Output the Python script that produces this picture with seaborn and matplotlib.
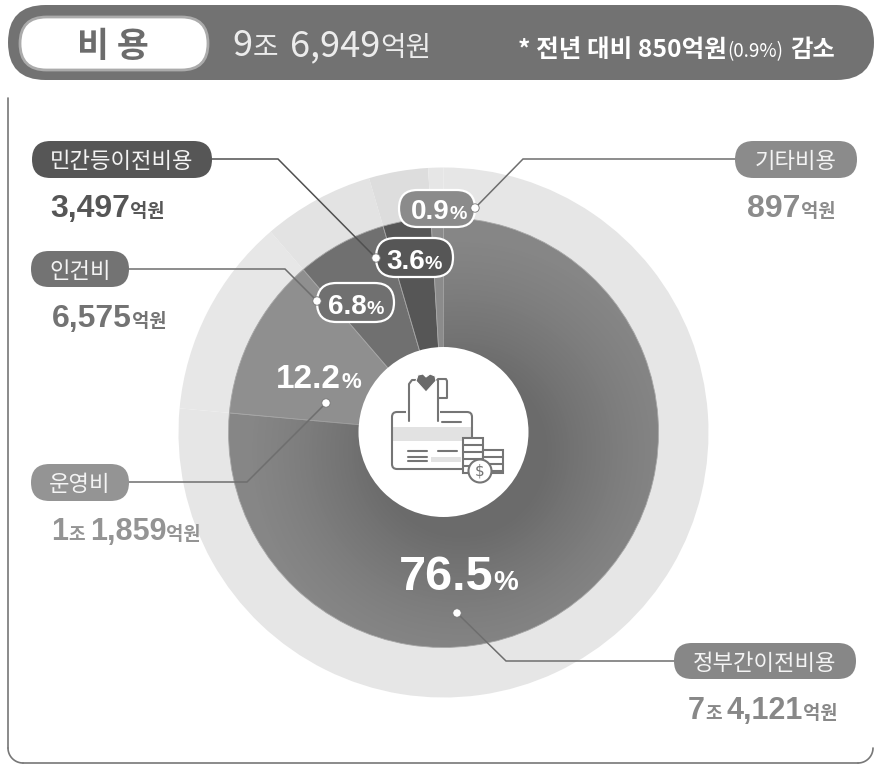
import numpy as np
import seaborn as sns
import matplotlib.pyplot as plt
from matplotlib.patches import Circle, FancyBboxPatch, Rectangle, Polygon

# Data (unit: 억원)
categories = ["정부간이전비용", "운영비", "인건비", "민간등이전비용", "기타비용"]
values = [74121, 11859, 6575, 3497, 897]
percents = ["76.5", "12.2", "6.8", "3.6", "0.9"]
inner_colors = ["#868686", "#8f8f8f", "#707070", "#565656", "#8b8b8b"]
outer_colors = ["#e6e6e6", "#e7e7e7", "#e3e3e3", "#dddddd", "#e6e6e6"]

FONT = "Noto Sans CJK KR"
LATIN = "Liberation Sans"
GRAY = "#727272"
CX, CY = 443.5, 432.5

sns.set_theme(style="white")
plt.rcParams["font.family"] = [FONT, "DejaVu Sans"]

fig = plt.figure(figsize=(8.74, 7.64), dpi=100)
ax = fig.add_axes([0, 0, 1, 1])


# Helper functions
def pill(x0, y0, x1, y1, fc, ec="none", lw=0, zorder=5):
    r = (y1 - y0) / 2
    patch = FancyBboxPatch((x0 + r, y0 + r), x1 - x0 - 2 * r, 0, boxstyle=f"round,pad={r},rounding_size={r}",
                           fc=fc, ec=ec, lw=lw, zorder=zorder)
    ax.add_patch(patch)


def rich_text(x, y, parts, color, align="left", zorder=8):
    """Write pieces of text of different size on one baseline, number entries are gaps in px"""
    renderer = fig.canvas.get_renderer()
    items = []
    for part in parts:
        if isinstance(part, (int, float)):
            items.append(part)
            continue
        txt, size, weight = part
        family = [FONT, "DejaVu Sans"]
        if weight == "digits":
            weight, family = "bold", [LATIN, FONT]
        t = ax.text(x, y, txt, fontsize=size, fontweight=weight, family=family, color=color,
                    va="baseline", ha="left", zorder=zorder)
        items.append((t, t.get_window_extent(renderer).width))
    total = sum(i if isinstance(i, (int, float)) else i[1] for i in items)
    pos = x - total if align == "right" else x
    for item in items:
        if isinstance(item, (int, float)):
            pos += item
        else:
            item[0].set_x(pos)
            pos += item[1]


def leader(xs, ys, color="#6e6e6e"):
    ax.plot(xs, ys, color=color, lw=1.1, zorder=4, solid_joinstyle="miter")
    ax.add_patch(Circle((xs[-1], ys[-1]), 4.2, fc="white", ec="#777777", lw=0.6, zorder=9))


def tag(x0, y0, x1, y1, label, fc):
    pill(x0, y0, x1, y1, fc)
    ax.text((x0 + x1) / 2, (y0 + y1) / 2 + 2, label, fontsize=16, color="#f4f4f4", ha="center",
            va="center", zorder=8)


def amount(x, y, parts, color, align="left"):
    rich_text(x, y, parts + [("억원", 13.5, "bold")], color, align=align)


# Donut: pale outer ring and inner pie share the same values
outer, _ = ax.pie(values, colors=outer_colors, center=(CX, CY), radius=265, counterclock=True, startangle=-90,
                  frame=True, wedgeprops={"lw": 0})
inner, _ = ax.pie(values, colors=inner_colors, center=(CX, CY), radius=215, counterclock=True, startangle=-90,
                  frame=True, wedgeprops={"lw": 0.6, "ec": "#a8a8a8"})
ax.set_xlim(0, 874)
ax.set_ylim(764, 0)
ax.set_axis_off()
for w in outer + inner:
    w.set_zorder(2)

# Soft shadow around the centre
yy, xx = np.mgrid[200:660:2, 220:670:2]
dist = np.hypot(xx - 460, yy - 450)
shade = np.clip(1 - (dist - 85) / 130, 0, 1) ** 1.3 * 0.2
rgba = np.zeros(xx.shape + (4,))
rgba[..., 3] = shade
im = ax.imshow(rgba, extent=(220, 670, 660, 200), zorder=3, interpolation="bilinear", aspect="auto")
im.set_clip_path(inner[0])
ax.set_xlim(0, 874)
ax.set_ylim(764, 0)

ax.add_patch(Circle((CX, 432), 85, fc="white", ec="none", zorder=4.5))

# Panel border, open at the top right
ax.plot([8, 8], [98, 748], color="#777777", lw=1.2, zorder=1)
t = np.linspace(np.pi, np.pi / 2, 20)
ax.plot(23 + 15 * np.cos(t), 748 + 15 * np.sin(t), color="#777777", lw=1.2, zorder=1)
ax.plot([23, 858], [763, 763], color="#777777", lw=1.2, zorder=1)
ax.plot(858 + 15 * np.cos(t - np.pi / 2), 748 + 15 * np.sin(t - np.pi / 2), color="#777777", lw=1.2, zorder=1)

# Header
pill(8, 5, 874, 80, GRAY, zorder=1)
pill(20, 17, 208, 70, "white", ec="#ababab", lw=2, zorder=2)
ax.text(113, 46, "비 용", fontsize=25, fontweight="bold", color="#6c6c6c", ha="center", va="center", zorder=8)
rich_text(232, 56, [("9", 26, "normal"), ("조", 20, "normal"), 12, ("6,949", 26, "normal"), ("억원", 20, "normal")], "#ececec")
rich_text(518, 57, [("* 전년 대비 850억원", 17.7, "bold"), ("(0.9%)", 13.5, "normal"), 7, ("감소", 17.5, "bold")], "white")

# Leaders, tags and amounts
leader([212, 278, 376], [159, 159, 258], color="#505050")
tag(32, 141, 212, 178, categories[3], "#565656")
amount(50, 217, [("3,497", 23, "digits")], "#565656")

leader([735, 523, 475], [159, 159, 208])
tag(735, 141, 857, 178, categories[4], "#8b8b8b")
amount(835, 217, [("897", 23, "digits")], "#8b8b8b", align="right")

leader([129, 285, 317], [269, 269, 301])
tag(31, 251, 129, 287, categories[2], "#737373")
amount(52, 327, [("6,575", 23, "digits")], "#737373")

leader([129, 247, 326], [482, 482, 403])
tag(31, 464, 129, 501, categories[1], "#949494")
amount(51, 540, [("1", 22, "digits"), ("조", 13, "bold"), 5, ("1,859", 22, "digits")], "#949494")

leader([674, 506, 457], [661, 661, 613])
tag(674, 643, 856, 679, categories[0], "#878787")
amount(688, 719, [("7", 22, "digits"), ("조", 13, "bold"), 5, ("4,121", 22, "digits")], "#888888")

# Percent labels
rich_text(399, 590, [(percents[0], 35, "digits"), ("%", 20, "digits")], "white")
rich_text(276, 388, [(percents[1], 24, "digits"), ("%", 16, "digits")], "white")
pill(317, 283, 394, 322, "#707070", ec="white", lw=1.6)
rich_text(328, 314, [(percents[2], 20, "digits"), ("%", 14, "digits")], "white")
pill(376, 238, 453, 277, "#565656", ec="white", lw=1.6)
rich_text(386, 269, [(percents[3], 20, "digits"), ("%", 14, "digits")], "white")
pill(399, 190, 475, 227, "#8b8b8b", ec="white", lw=1.6)
rich_text(411, 219, [(percents[4], 20, "digits"), ("%", 14, "digits")], "white")

# Icon in the centre: card, hand, coins
IC = "#757575"
ax.add_patch(Rectangle((392, 427), 80, 14, fc="#e2e2e2", ec="none", zorder=5))
ax.add_patch(Rectangle((431, 457), 30, 5, fc="#e2e2e2", ec="none", zorder=5))
ax.add_patch(FancyBboxPatch((396, 416), 72, 49, boxstyle="round,pad=4,rounding_size=5", fc="none", ec=IC, lw=1.5, zorder=5))
ax.add_patch(Rectangle((406, 378), 34, 48, fc="white", ec="none", zorder=5.1))
ax.plot([409, 409, 412, 438, 438], [421, 384, 380, 380, 421], color=IC, lw=1.5, zorder=5.2)
ax.plot([438, 446, 447, 447, 438], [379, 379, 381, 398, 398], color=IC, lw=1.5, zorder=5.2)
ax.plot([442, 461], [422, 422], color=IC, lw=1.5, zorder=5.2)
for y in [451, 457, 461]:
    ax.plot([408, 427], [y, y], color=IC, lw=1.5, zorder=5.2)
ax.plot([438, 457], [451, 451], color=IC, lw=1.5, zorder=5.2)
ax.add_patch(Polygon([(426, 392), (416, 381), (418, 375), (423, 374), (426, 377), (430, 374), (435, 376), (436, 381)],
                     fc="#6a6a6a", ec="white", lw=0.8, zorder=5.3))
for x0, y0, x1 in [(463, 438, 483), (483, 450, 503)]:
    ax.add_patch(Rectangle((x0, y0), x1 - x0, 473 - y0, fc="white", ec=IC, lw=1.5, zorder=5.3))
    for y in np.arange(y0 + 7, 473, 7):
        ax.plot([x0, x1], [y, y], color=IC, lw=1.5, zorder=5.4)
ax.add_patch(Circle((480, 471), 11.5, fc="white", ec=IC, lw=1.5, zorder=5.5))
ax.text(480, 471, "$", fontsize=11, color=IC, ha="center", va="center", zorder=5.6, family="DejaVu Sans")

fig.savefig("out.png", dpi=100)
